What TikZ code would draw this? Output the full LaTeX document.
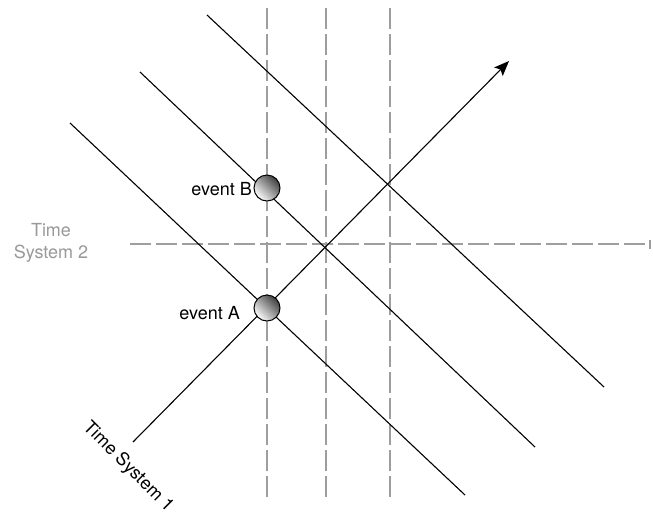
\documentclass[tikz,border=0pt]{standalone}
\usepackage{fontspec}
\setmainfont{TeX Gyre Heros}
\usetikzlibrary{arrows.meta}

\begin{document}
\begin{tikzpicture}[
  x=1pt,y=-1pt,
  font=\fontsize{18}{22}\selectfont,
  grid/.style={draw=black!38,line width=1.4pt,dash pattern=on 21pt off 5pt},
  world/.style={draw=black,line width=1.1pt},
  event/.style={circle,draw=black,line width=1pt,minimum size=26pt,inner sep=0pt,
    bottom color=white,top color=black!75,shading angle=-45},
  evlabel/.style={anchor=east,inner sep=0pt},
  axislabel/.style={text=black!40,align=center,inner sep=0pt}
]
\path[use as bounding box] (0,0) rectangle (653,512);
% time system 2 grid
\foreach \x in {267,326,390}
  \draw[grid] (\x,8) -- (\x,497);
\draw[grid,-{Bar[width=9pt,line width=2pt]}] (130,244) -- (651,244);
% lines of simultaneity
\draw[world] (70,123) -- (465,495);
\draw[world] (140,72) -- (535,447);
\draw[world] (207,15) -- (604,387);
% time system 1 axis
\coordinate (origin) at (133,442);
\coordinate (tip) at (509,61);
\draw[world,-{Stealth[length=15pt,width=12pt,inset=3pt]}] (origin) -- (tip);
% events
\node[event] (evA) at (267,308) {};
\node[event] (evB) at (267,188) {};
\node[evlabel] (labA) at (240,313) {event A};
\node[evlabel] (labB) at (252,189) {event B};
\node[axislabel] (ts2) at (51,243) {Time\\System 2};
\node[rotate=-45,inner sep=0pt] (ts1) at (128,467) {Time System 1};
\end{tikzpicture}
\end{document}
